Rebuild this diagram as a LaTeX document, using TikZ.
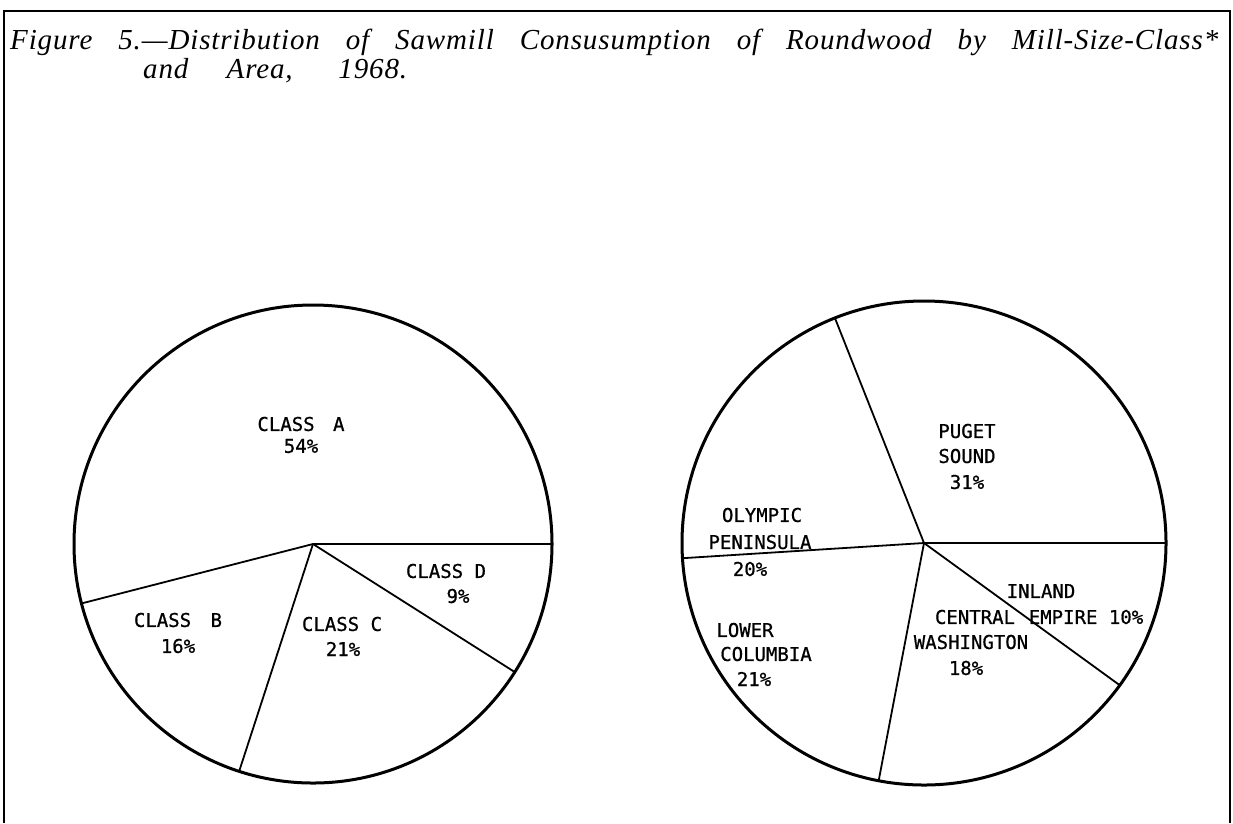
\documentclass[tikz,border=0pt]{standalone}
\usepackage{fontspec}
\setmainfont{Liberation Serif}
\newfontface\ttlfont[LetterSpace=3,Ligatures=TeX]{Liberation Serif Italic}
\newfontfamily\labfont[FakeBold=0.8]{DejaVu Sans Mono}
\begin{document}
\begin{tikzpicture}[x=1pt,y=-1pt,
  lab/.style={font=\labfont\fontsize{19}{22}\selectfont, inner sep=0pt, anchor=center},
  ttl/.style={font=\ttlfont\fontsize{29}{32}\selectfont, inner sep=0pt, anchor=base west},
  rim/.style={line width=3pt},
  cut/.style={line width=1.8pt},
  frame/.style={line width=2.8pt}]
\useasboundingbox (0,0) rectangle (1233,823);
\draw[frame] (4,823) -- (4,11) -- (1230,11) -- (1230,823);

\node[ttl] (t1) at (10,49) {\makebox[1208pt][s]{Figure 5.—Distribution of Sawmill Consusumption of Roundwood by Mill-Size-Class*}};
\node[ttl] (t2) at (143,78) {\makebox[264pt][s]{and Area, 1968.}};

% left pie
\coordinate (L) at (313,544);
\draw[rim] (L) circle[radius=239];
\foreach \a in {0,32.4,108,165.6} \draw[cut] (L) -- ++(\a:239);

\node[lab] (ca) at (301,424) {CLASS\hspace{7pt} A};
\node[lab] (pa) at (301,446) {54\%};
\node[lab] (cb) at (178,620) {CLASS\hspace{8pt} B};
\node[lab] (pb) at (178,646) {16\%};
\node[lab] (cc) at (342,624) {CLASS C};
\node[lab] (pc) at (343,649) {21\%};
\node[lab] (cd) at (446,571) {CLASS D};
\node[lab] (pd) at (458,596) {9\%};

% right pie
\coordinate (R) at (924,543);
\draw[rim] (R) circle[radius=242];
\foreach \a in {0,36,100.8,176.4,248.4} \draw[cut] (R) -- ++(\a:242);

\node[lab] (ps1) at (967,431) {PUGET};
\node[lab] (ps2) at (967,456) {SOUND};
\node[lab] (ps3) at (967,482) {31\%};
\node[lab] (op1) at (762,515) {OLYMPIC};
\node[lab] (op2) at (760,542) {PENINSULA};
\node[lab] (op3) at (750,569) {20\%};
\node[lab] (ie1) at (1041,591) {INLAND};
\node[lab] (ie2) at (1086,617) {EMPIRE 10\%};
\node[lab] (lc1) at (745,630) {LOWER};
\node[lab] (lc2) at (766,654) {COLUMBIA};
\node[lab] (lc3) at (754,679) {21\%};
\node[lab] (cw1) at (975,617) {CENTRAL};
\node[lab] (cw2) at (971,642) {WASHINGTON};
\node[lab] (cw3) at (966,668) {18\%};
\end{tikzpicture}
\end{document}
